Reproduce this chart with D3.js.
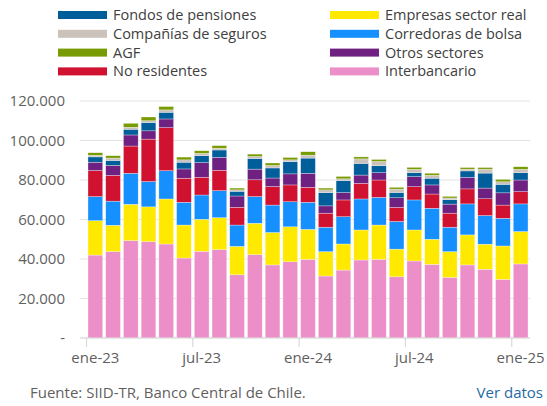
<!DOCTYPE html>
<html>
<head>
<meta charset="utf-8">
<script src="https://cdn.jsdelivr.net/npm/d3@7"></script>
<style>
    body { margin: 0; background: #fff; }
    svg text { font-family: "Open Sans", "Noto Sans", sans-serif; }
</style>
</head>
<body>
<svg id="chart" width="547" height="406"></svg>
<script>
// meses (ene-23 .. ene-25)
const months = [
    'ene-23', 'feb-23', 'mar-23', 'abr-23', 'may-23', 'jun-23', 'jul-23', 'ago-23', 'sep-23', 'oct-23', 'nov-23', 'dic-23',
    'ene-24', 'feb-24', 'mar-24', 'abr-24', 'may-24', 'jun-24', 'jul-24', 'ago-24', 'sep-24', 'oct-24', 'nov-24', 'dic-24',
    'ene-25'
];
const tickLabels = ['ene-23', 'jul-23', 'ene-24', 'jul-24', 'ene-25'];
const yTicks = [0, 20000, 40000, 60000, 80000, 100000, 120000];

// series, de abajo hacia arriba
const interbancario = [42000, 43700, 49300, 48800, 47600, 40500, 43900, 44700, 32000, 42200, 37000, 38600, 39800, 31400, 34400, 39500, 39800, 31000, 39000, 37300, 30700, 37000, 34800, 29700, 37500];
const empresas = [17400, 13400, 18400, 17600, 22800, 16700, 16200, 16200, 14400, 15900, 16400, 17700, 15200, 12300, 13200, 15200, 17400, 14000, 15700, 12700, 13000, 15200, 12700, 16900, 16400];
const corredoras = [12200, 12200, 15700, 12800, 14300, 11500, 12300, 13700, 10800, 13500, 13900, 12700, 13700, 12400, 13800, 15700, 14000, 14000, 15200, 15700, 12400, 15700, 14500, 14000, 14000];
const noResidentes = [13200, 13000, 13800, 21500, 21800, 12200, 9000, 10300, 9000, 8500, 9400, 8500, 7600, 7100, 8500, 7900, 8800, 7100, 6700, 7200, 7100, 7600, 8500, 6700, 6200];
const otros = [4200, 5100, 5600, 4200, 4400, 4700, 7400, 6600, 5700, 5400, 4300, 5600, 7100, 3700, 3700, 4200, 3700, 4900, 5100, 4600, 4600, 5900, 5400, 6200, 5900];
const fondos = [2700, 2500, 2900, 4200, 3400, 3400, 3500, 3700, 2400, 5400, 5100, 6200, 7700, 6700, 6100, 5900, 3500, 2700, 2000, 3400, 2200, 3200, 7600, 4300, 3700];
const seguros = [800, 1200, 1000, 900, 1200, 1200, 1200, 900, 700, 1000, 1300, 900, 1500, 1400, 900, 2300, 2200, 1700, 1700, 1500, 900, 900, 2000, 1300, 1700];
const agf = [1300, 1200, 2000, 1900, 1700, 1400, 1300, 1300, 900, 1200, 1200, 1200, 1700, 900, 1200, 1000, 1000, 900, 1000, 1000, 800, 800, 800, 1200, 1300];

const series = [
    { key: 'interbancario', name: 'Interbancario', color: '#ec8fc9', values: interbancario },
    { key: 'empresas', name: 'Empresas sector real', color: '#ffe900', values: empresas },
    { key: 'corredoras', name: 'Corredoras de bolsa', color: '#168fff', values: corredoras },
    { key: 'noResidentes', name: 'No residentes', color: '#d0112f', values: noResidentes },
    { key: 'otros', name: 'Otros sectores', color: '#6f2182', values: otros },
    { key: 'fondos', name: 'Fondos de pensiones', color: '#005f9b', values: fondos },
    { key: 'seguros', name: 'Compañías de seguros', color: '#cac2bb', values: seguros },
    { key: 'agf', name: 'AGF', color: '#789b02', values: agf }
];
const legendLeft = ['fondos', 'seguros', 'agf', 'noResidentes'];
const legendRight = ['empresas', 'corredoras', 'otros', 'interbancario'];

const rows = months.map((m, i) => {
    const row = { month: m };
    series.forEach((s) => { row[s.key] = s.values[i]; });
    return row;
});
const stacked = d3.stack().keys(series.map((s) => s.key))(rows);
const colorOf = (key) => series.find((s) => s.key === key).color;
const nameOf = (key) => series.find((s) => s.key === key).name;

const svg = d3.select('#chart');
const x = d3.scaleBand()
    .domain(months)
    .range([86.5, 529.5])
    .paddingInner(0.17)
    .paddingOuter(0.085);
const y = d3.scaleLinear().domain([0, 120000]).range([338, 101]);
const fmt = d3.formatLocale({ decimal: ',', thousands: '.', grouping: [3], currency: ['$', ''] }).format(',.0f');

// grilla
svg.append('g').attr('class', 'grid')
    .selectAll('line')
    .data(yTicks)
    .enter().append('line')
    .attr('x1', 80).attr('x2', 530)
    .attr('y1', (d) => y(d)).attr('y2', (d) => y(d))
    .attr('stroke', '#e3e3e3')
    .attr('stroke-width', 1.2);

// eje y
const yAxis = d3.axisLeft(y)
    .tickValues(yTicks)
    .tickSize(0)
    .tickPadding(0)
    .tickFormat((d) => d === 0 ? '-' : fmt(d));
svg.append('g')
    .attr('transform', 'translate(65,0)')
    .call(yAxis)
    .call((g) => g.select('.domain').remove())
    .selectAll('text')
    .attr('fill', '#5f5f5f')
    .attr('font-size', 15);

// barras
svg.append('g').attr('class', 'bars')
    .selectAll('g')
    .data(stacked)
    .enter().append('g')
    .attr('fill', (d) => colorOf(d.key))
    .selectAll('rect')
    .data((d) => d)
    .enter().append('rect')
    .attr('x', (d) => x(d.data.month))
    .attr('width', x.bandwidth())
    .attr('y', (d) => y(d[1]))
    .attr('height', (d) => y(d[0]) - y(d[1]))
    .attr('stroke', '#ffffff')
    .attr('stroke-opacity', 0.6)
    .attr('stroke-width', 0.5);

// eje x
const tickOffset = x.step() * x.paddingInner() / 2;
const xAxis = svg.append('g').attr('class', 'x-axis');
xAxis.append('line')
    .attr('x1', 80).attr('x2', 530)
    .attr('y1', y(0)).attr('y2', y(0))
    .attr('stroke', '#d9d9d9')
    .attr('stroke-width', 1.2);
xAxis.selectAll('line.tick')
    .data(tickLabels)
    .enter().append('line')
    .attr('class', 'tick')
    .attr('x1', (d) => x(d) - tickOffset).attr('x2', (d) => x(d) - tickOffset)
    .attr('y1', y(0)).attr('y2', y(0) + 9)
    .attr('stroke', '#d9d9d9')
    .attr('stroke-width', 1.2);
xAxis.selectAll('text')
    .data(tickLabels)
    .enter().append('text')
    .attr('x', (d) => x(d) + x.bandwidth() / 2)
    .attr('y', 363)
    .attr('text-anchor', 'middle')
    .attr('fill', '#5f5f5f')
    .attr('font-size', 15)
    .text((d) => d);

// leyenda
const legend = svg.append('g').attr('class', 'legend');
const drawLegendColumn = (keys, x0) => {
    const items = legend.selectAll('g.col-' + x0)
        .data(keys)
        .enter().append('g')
        .attr('transform', (d, i) => 'translate(' + x0 + ',' + (15 + i * 18.8) + ')');
    items.append('rect')
        .attr('x', 0).attr('y', -4)
        .attr('width', 49).attr('height', 8)
        .attr('fill', (d) => colorOf(d));
    items.append('text')
        .attr('x', 55).attr('y', 5)
        .attr('fill', '#404040')
        .attr('font-size', 14.5)
        .text((d) => nameOf(d));
};
drawLegendColumn(legendLeft, 58);
drawLegendColumn(legendRight, 330);

// pie
svg.append('text')
    .attr('x', 30).attr('y', 398)
    .attr('fill', '#5f5f5f')
    .attr('font-size', 15)
    .text('Fuente: SIID-TR, Banco Central de Chile.');
svg.append('text')
    .attr('x', 543).attr('y', 398)
    .attr('text-anchor', 'end')
    .attr('fill', '#1f6aa5')
    .attr('font-size', 15)
    .text('Ver datos');
</script>
</body>
</html>
